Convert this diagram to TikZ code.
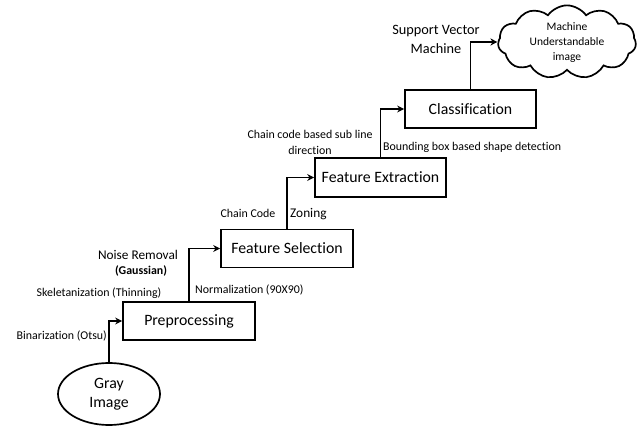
\documentclass[tikz,border=0pt]{standalone}
\usepackage{fontspec}
\setmainfont{Carlito}[Ligatures=CommonOff]
\usetikzlibrary{shapes.geometric,shapes.symbols,arrows.meta}
\begin{document}
\begin{tikzpicture}[x=1pt,y=-1pt,
  stagebox/.style={draw,line width=1.7pt,minimum width=132pt,minimum height=38pt,inner sep=0pt,font=\fontsize{15.8}{18}\selectfont},
  conn/.style={line width=1.7pt,-{Stealth[length=7pt,width=7pt]}},
  lbl/.style={inner sep=0pt,font=\fontsize{11.9}{14}\selectfont,align=center},
  biglbl/.style={inner sep=0pt,font=\fontsize{13.3}{16}\selectfont,align=center}]
\useasboundingbox (0,0) rectangle (640,427);
\node[draw,ellipse,line width=1.7pt,minimum width=102pt,minimum height=62pt,inner sep=0pt,align=center,font=\fontsize{15.8}{19}\selectfont] (gray) at (109,394) {Gray\\Image};
\node[stagebox] (pre) at (189,321) {Preprocessing};
\node[stagebox] (fs) at (287,248.5) {Feature Selection};
\node[stagebox,minimum width=131pt,minimum height=39pt] (fe) at (380.5,177.5) {Feature Extraction};
\node[stagebox,minimum width=131pt] (cl) at (470.5,109) {Classification};
\node[draw,cloud,cloud puffs=11,cloud puff arc=110,aspect=2.3,line width=1.7pt,minimum width=138pt,minimum height=58pt,inner sep=0pt,align=center,font=\fontsize{11.5}{15}\selectfont] (cloud) at (567,42) {Machine\\Understandable\\image};
\draw[conn] (gray.north) |- (pre.west);
\draw[conn] (pre.north) |- (fs.west);
\draw[conn] (fs.north) |- (fe.west);
\draw[conn] (fe.north) |- (cl.west);
\draw[conn] (cl.north) |- (cloud.west);
\node[lbl,anchor=east] (bin) at (107,336) {Binarization (Otsu)};
\node[lbl] (skel) at (99,293) {Skeletanization (Thinning)};
\node[biglbl] (noise) at (138,255) {Noise Removal};
\node[lbl,font=\fontsize{11.9}{14}\selectfont\bfseries] (gauss) at (141,271) {(Gaussian)};
\node[lbl,anchor=west] (norm) at (195,290) {Normalization (90X90)};
\node[lbl] (chain) at (248,213) {Chain Code};
\node[biglbl,anchor=west] (zon) at (290,214) {Zoning};
\node[lbl,font=\fontsize{11.9}{15.5}\selectfont] (ccb) at (310,142.5) {Chain code based sub line\\direction};
\node[lbl,anchor=west] (bbox) at (383,147) {Bounding box based shape detection};
\node[biglbl,font=\fontsize{14.3}{18.5}\selectfont] (svm) at (436,39.5) {Support Vector\\Machine};
\end{tikzpicture}
\end{document}
